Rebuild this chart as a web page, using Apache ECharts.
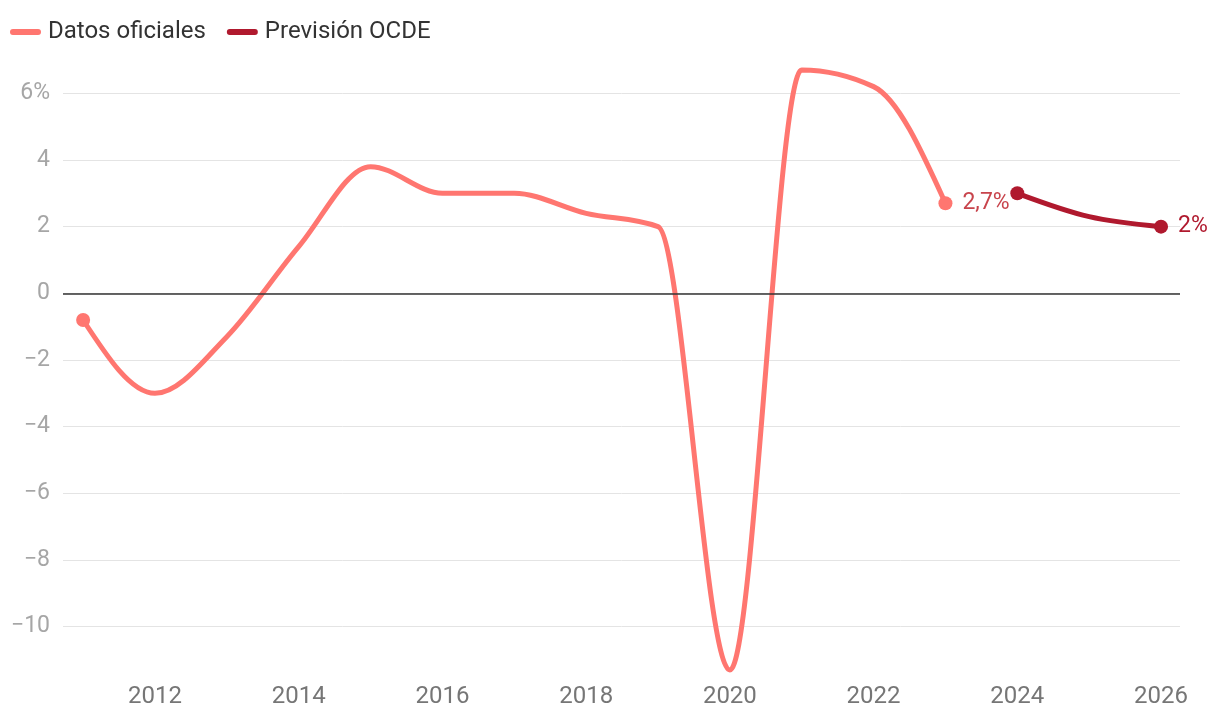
<!DOCTYPE html>
<html>
<head>
<meta charset="utf-8">
<script src="https://cdn.jsdelivr.net/npm/echarts@6/dist/echarts.min.js"></script>
<style>html,body{margin:0;padding:0;background:#fff}#c{width:1220px;height:720px}</style>
</head>
<body>
<div id="c"></div>
<script>
// ---- data ----
const officialYears = [2011, 2012, 2013, 2014, 2015, 2016, 2017, 2018, 2019, 2020, 2021, 2022, 2023];
const officialValues = [-0.8, -3.0, -1.3, 1.4, 3.8, 3.0, 3.0, 2.4, 2.0, -11.3, 6.7, 6.2, 2.7];
const forecastYears = [2024, 2025, 2026];
const forecastValues = [3.0, 2.3, 2.0];
const xTickLabels = [2012, 2014, 2016, 2018, 2020, 2022, 2024, 2026];
const yTicks = [-10, -8, -6, -4, -2, 0, 2, 4, 6];

const COL_OFF = '#ff7670';
const COL_OFF_LABEL = '#c8444c';
const COL_FC = '#b0192e';
const FONT = 'Roboto';

function pairs(xs, ys) { return xs.map((x, i) => [x, ys[i]]); }

// d3-style monotoneX path through pixel points
function monotonePath(pts) {
  const n = pts.length;
  if (n < 2) return '';
  const sign = v => (v < 0 ? -1 : 1);
  const s = [];
  for (let i = 0; i < n - 1; i++) {
    const h = pts[i + 1][0] - pts[i][0];
    s.push(h ? (pts[i + 1][1] - pts[i][1]) / h : 0);
  }
  let d = 'M' + pts[0][0] + ',' + pts[0][1];
  if (n === 2) return d + 'L' + pts[1][0] + ',' + pts[1][1];
  const m = new Array(n);
  for (let i = 1; i < n - 1; i++) {
    const h0 = pts[i][0] - pts[i - 1][0], h1 = pts[i + 1][0] - pts[i][0];
    const s0 = s[i - 1], s1 = s[i];
    const p = (s0 * h1 + s1 * h0) / (h0 + h1);
    m[i] = (sign(s0) + sign(s1)) * Math.min(Math.abs(s0), Math.abs(s1), 0.5 * Math.abs(p)) || 0;
  }
  m[0] = (3 * s[0] - m[1]) / 2;
  m[n - 1] = (3 * s[n - 2] - m[n - 2]) / 2;
  for (let i = 0; i < n - 1; i++) {
    const x0 = pts[i][0], y0 = pts[i][1], x1 = pts[i + 1][0], y1 = pts[i + 1][1];
    const dx = (x1 - x0) / 3;
    d += 'C' + (x0 + dx) + ',' + (y0 + dx * m[i]) + ',' + (x1 - dx) + ',' + (y1 - dx * m[i + 1]) + ',' + x1 + ',' + y1;
  }
  return d;
}

function curveSeries(name, xs, ys, color) {
  return {
    type: 'custom',
    name: name,
    data: pairs(xs, ys),
    clip: false,
    silent: true,
    renderItem: function (params, api) {
      if (params.dataIndexInside !== 0) return null;
      const pts = [];
      for (let i = 0; i < params.dataInsideLength; i++) {
        pts.push(api.coord([api.value(0, i), api.value(1, i)]));
      }
      return {
        type: 'path',
        shape: { pathData: monotonePath(pts) },
        style: { stroke: color, lineWidth: 5, fill: null, lineCap: 'round', lineJoin: 'round' }
      };
    },
    z: 3
  };
}

function fmtPct(v) { return String(v).replace('.', ',') + '%'; }

function endPoints(name, xs, ys, color, labelColor) {
  const last = xs.length - 1;
  return {
    type: 'scatter',
    name: name,
    symbol: 'circle',
    symbolSize: 14,
    itemStyle: { color: color, opacity: 1 },
    clip: false,
    silent: true,
    z: 4,
    data: [
      { value: [xs[0], ys[0]], label: { show: false } },
      {
        value: [xs[last], ys[last]],
        label: {
          show: true, position: 'right', distance: 10,
          formatter: p => fmtPct(p.value[1]),
          color: labelColor, fontFamily: FONT, fontSize: 23
        }
      }
    ]
  };
}

const legendIcon = 'path://M3,0 H29 A3,3 0 0 1 29,6 H3 A3,3 0 0 1 3,0 Z';

const chart = echarts.init(document.getElementById('c'), null, { renderer: 'canvas' });
chart.setOption({
  animation: false,
  backgroundColor: '#ffffff',
  textStyle: { fontFamily: FONT },
  legend: {
    left: 5, top: 15,
    itemWidth: 31, itemHeight: 6, itemGap: 21,
    selectedMode: false,
    textStyle: { fontFamily: FONT, fontSize: 24, color: '#333333', padding: [0, 0, 0, 2] },
    data: [
      { name: 'Datos oficiales', icon: legendIcon, itemStyle: { color: COL_OFF } },
      { name: 'Previsión OCDE', icon: legendIcon, itemStyle: { color: COL_FC } }
    ]
  },
  grid: { left: 63, right: 40, top: 93.3, bottom: 93.3 },
  xAxis: {
    type: 'value',
    min: 2010.72,
    max: 2026.264,
    axisLine: { show: false },
    axisTick: { show: false },
    splitLine: { show: false },
    axisLabel: {
      customValues: xTickLabels,
      formatter: v => String(v),
      color: '#767676', fontFamily: FONT, fontSize: 24, margin: 58
    }
  },
  yAxis: {
    type: 'value',
    min: yTicks[0],
    max: yTicks[yTicks.length - 1],
    interval: 2,
    axisLine: { show: false },
    axisTick: { show: false },
    splitLine: { lineStyle: { color: '#e4e4e4', width: 1 } },
    axisLabel: {
      color: '#a6a6a6', fontFamily: FONT, fontSize: 23, margin: 13,
      formatter: v => (v === yTicks[yTicks.length - 1] ? v + '%' : (v < 0 ? '\u2212' + Math.abs(v) : String(v)))
    }
  },
  series: [
    {
      type: 'line', name: '__zero', data: [], silent: true,
      markLine: {
        silent: true, symbol: 'none', label: { show: false },
        lineStyle: { color: '#333333', width: 1.5, type: 'solid' },
        data: [{ yAxis: 0 }]
      },
      z: 2
    },
    curveSeries('Datos oficiales', officialYears, officialValues, COL_OFF),
    curveSeries('Previsión OCDE', forecastYears, forecastValues, COL_FC),
    endPoints('Datos oficiales', officialYears, officialValues, COL_OFF, COL_OFF_LABEL),
    endPoints('Previsión OCDE', forecastYears, forecastValues, COL_FC, COL_FC)
  ]
});
</script>
</body>
</html>
